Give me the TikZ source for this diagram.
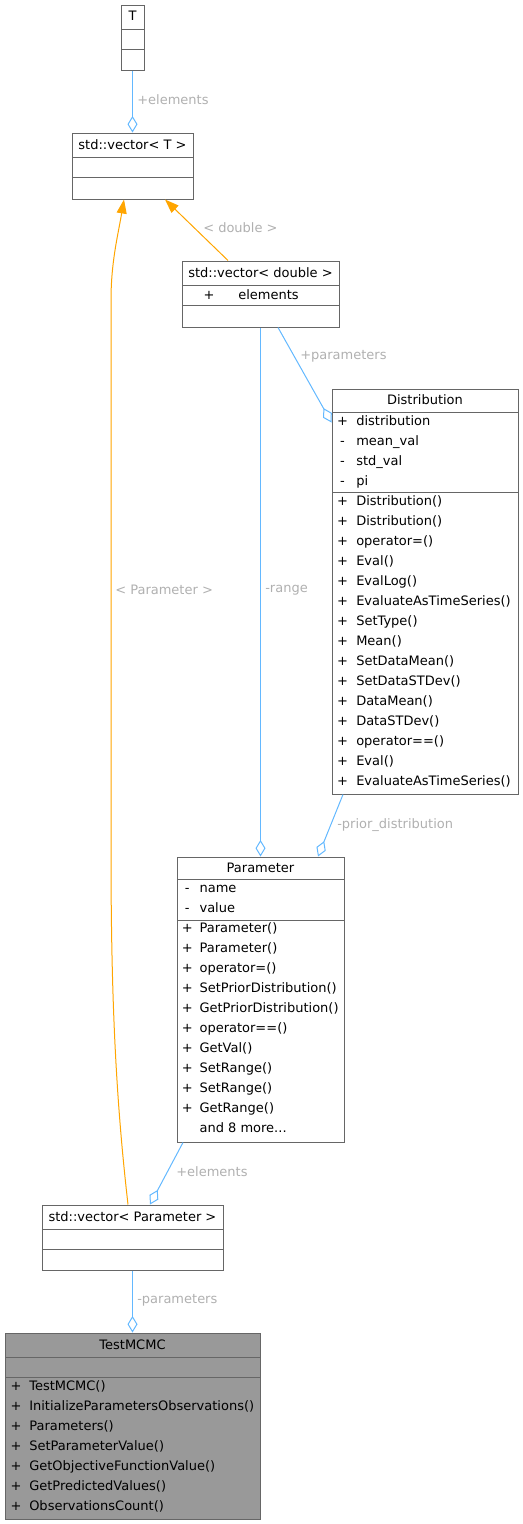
\documentclass[tikz,border=0pt]{standalone}
\usepackage{fontspec}
\setmainfont{DejaVu Sans}
\usetikzlibrary{arrows.meta,calc,fit}
\definecolor{edgeblue}{HTML}{63B8FF}
\definecolor{tplorange}{HTML}{FFA500}
\definecolor{lblgray}{HTML}{B0B0B0}
\definecolor{boxline}{HTML}{666666}
\definecolor{mainfill}{HTML}{999999}
\begin{document}
\begin{tikzpicture}[x=0.75pt,y=-0.75pt,
  font=\fontsize{9.75}{11}\selectfont,
  classbox/.style={draw=boxline, line width=0.75pt, fill=white, inner sep=0pt},
  mainbox/.style={classbox, fill=mainfill},
  divider/.style={draw=boxline, line width=0.75pt},
  txt/.style={inner sep=0pt, anchor=base west},
  ttl/.style={inner sep=0pt, anchor=base},
  sym/.style={inner sep=0pt, anchor=base},
  lbl/.style={inner sep=0pt, anchor=west, text=lblgray},
  member/.style={draw=edgeblue, line width=0.75pt, -{Diamond[open, length=12.4pt, width=7.5pt, line width=0.75pt]}},
  tmpl/.style={draw=tplorange, line width=0.75pt, -{Triangle[length=10.5pt, width=7.5pt, fill=tplorange]}}
]
\useasboundingbox (0,0) rectangle (523,1524);

% ---- T
\node[classbox, fit={(121,5) (144,70)}] (T) {};
\draw[divider] (121,29) -- (144,29);
\draw[divider] (121,49) -- (144,49);
\node[ttl] (Tt) at (132.5,21) {T};

% ---- std::vector< T >
\node[classbox, fit={(72,133) (193,199)}] (vecT) {};
\draw[divider] (72,157) -- (193,157);
\draw[divider] (72,177) -- (193,177);
\node[ttl] (vecTt) at (132.5,149) {std::vector< T >};

% ---- std::vector< double >
\node[classbox, fit={(182,261) (339,327)}] (vecD) {};
\draw[divider] (182,285) -- (339,285);
\draw[divider] (182,305) -- (339,305);
\node[ttl] (vecDt) at (260.5,277) {std::vector< double >};
\node[sym] (vecDs) at (209,299) {+};
\node[txt] (vecDa) at (238,299) {elements};

% ---- Distribution
\node[classbox, fit={(332,389) (518,794)}] (dist) {};
\draw[divider] (332,412) -- (518,412);
\draw[divider] (332,492) -- (518,492);
\node[ttl] (distt) at (425,404.5) {Distribution};
\foreach \s/\t [count=\i from 0] in {+/distribution,-/mean\_val,-/std\_val,-/pi}{
  \node[sym] (dists\i) at (342.5,425+20*\i) {\s};
  \node[txt] (dista\i) at (356,425+20*\i) {\t};
}
\foreach \t [count=\i from 0] in {Distribution(),Distribution(),operator=(),Eval(),EvalLog(),EvaluateAsTimeSeries(),SetType(),Mean(),SetDataMean(),SetDataSTDev(),DataMean(),DataSTDev(),operator==(),Eval(),EvaluateAsTimeSeries()}{
  \node[sym] (distms\i) at (342.5,505+20*\i) {+};
  \node[txt] (distm\i) at (356,505+20*\i) {\t};
}

% ---- Parameter
\node[classbox, fit={(177,857) (344,1142)}] (param) {};
\draw[divider] (177,879) -- (344,879);
\draw[divider] (177,920) -- (344,920);
\node[ttl] (paramt) at (260.5,872) {Parameter};
\foreach \t [count=\i from 0] in {name,value}{
  \node[sym] (params\i) at (187.3,892+20*\i) {-};
  \node[txt] (parama\i) at (199.3,892+20*\i) {\t};
}
\foreach \t [count=\i from 0] in {Parameter(),Parameter(),operator=(),SetPriorDistribution(),GetPriorDistribution(),operator==(),GetVal(),SetRange(),SetRange(),GetRange()}{
  \node[sym] (paramms\i) at (187.3,932+20*\i) {+};
  \node[txt] (paramm\i) at (199.3,932+20*\i) {\t};
}
\node[txt] (parammore) at (199.3,1132) {and 8 more...};

% ---- std::vector< Parameter >
\node[classbox, fit={(42,1205) (223,1270)}] (vecP) {};
\draw[divider] (42,1229) -- (223,1229);
\draw[divider] (42,1249) -- (223,1249);
\node[ttl] (vecPt) at (132.5,1221) {std::vector< Parameter >};

% ---- TestMCMC
\node[mainbox, fit={(5,1333) (260,1519)}] (mcmc) {};
\draw[divider] (5,1357) -- (260,1357);
\draw[divider] (5,1377) -- (260,1377);
\node[ttl] (mcmct) at (132.5,1349) {TestMCMC};
\foreach \t [count=\i from 0] in {TestMCMC(),InitializeParametersObservations(),Parameters(),SetParameterValue(),GetObjectiveFunctionValue(),GetPredictedValues(),ObservationsCount()}{
  \node[sym] (mcmcms\i) at (16,1390+20*\i) {+};
  \node[txt] (mcmcm\i) at (29,1390+20*\i) {\t};
}

% ---- connectors
\draw[member] (T.south) -- (vecT.north);
\node[lbl] (l1) at (137,100) {+elements};

\draw[tmpl] ($(vecD.north)+(-32.5,0)$) -- ($(vecT.south)+(32.5,0)$);
\node[lbl] (l2) at (203,228) {< double >};

\draw[tmpl] ($(vecP.north)+(-4.5,0)$) .. controls (116,1100) and (111,1000) .. (111,850)
  -- (111,300) .. controls (111,262) and (118,235) .. ($(vecT.south)+(-8.5,0)$);
\node[lbl] (l3) at (115,590) {< Parameter >};

\draw[member] ($(vecD.south)+(17.5,0)$) -- ($(dist.north west)+(0,34)$);
\node[lbl] (l4) at (300,356) {+parameters};

\draw[member] (vecD.south) -- (param.north);
\node[lbl] (l5) at (265,590) {-range};

\draw[member] ($(dist.south)+(-82,0)$) -- ($(param.north)+(57.5,0)$);
\node[lbl] (l6) at (337,825) {-prior\_distribution};

\draw[member] ($(param.south)+(-77.5,0)$) -- ($(vecP.north)+(17.5,0)$);
\node[lbl] (l7) at (176,1172) {+elements};

\draw[member] (vecP.south) -- (mcmc.north);
\node[lbl] (l8) at (137,1300) {-parameters};
\end{tikzpicture}
\end{document}
